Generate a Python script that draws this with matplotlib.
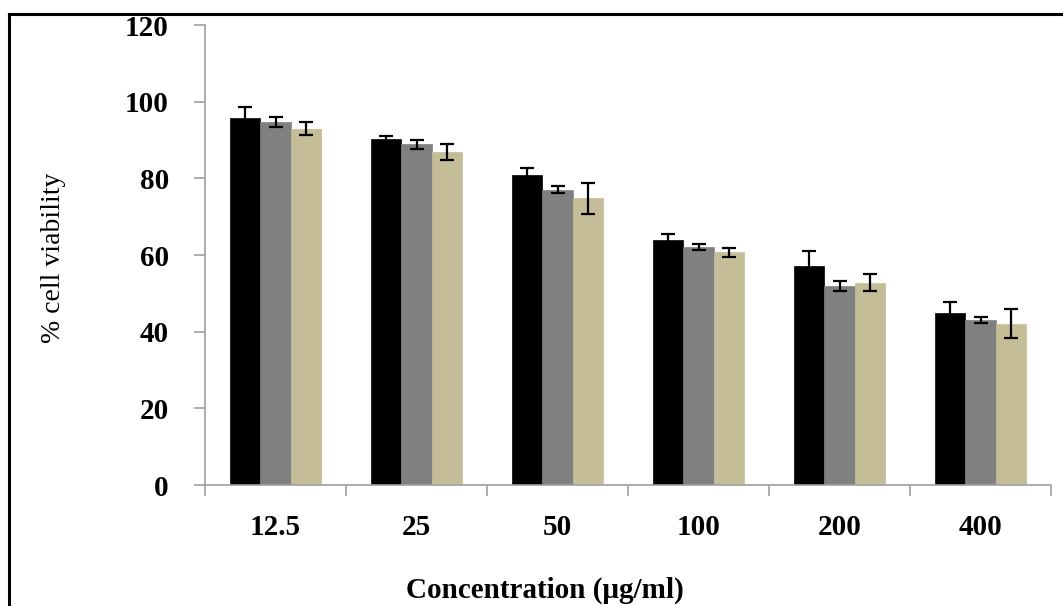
import matplotlib
matplotlib.use("Agg")
import matplotlib.pyplot as plt
from matplotlib.lines import Line2D
import numpy as np

categories = ["12.5", "25", "50", "100", "200", "400"]
series1 = [95.7, 90.3, 81.0, 63.9, 57.1, 44.8]
series1_err = [3.0, 0.8, 1.7, 1.5, 3.9, 3.0]
series2 = [94.7, 88.9, 77.0, 62.0, 51.8, 43.0]
series2_err = [1.3, 1.2, 0.9, 0.8, 1.3, 0.8]
series3 = [93.0, 86.8, 74.8, 60.7, 52.8, 42.1]
series3_err = [1.7, 2.1, 4.0, 1.2, 2.2, 3.8]
colors = ["#000000", "#808080", "#c4bd97"]
yticks = [0, 20, 40, 60, 80, 100, 120]

plt.rcParams['font.family'] = ['Liberation Serif', 'DejaVu Serif']

fig = plt.figure(figsize=(10.63, 6.06), dpi=100)
ax = fig.add_axes([205/1063, 1-485/606, (1051-205)/1063, (485-25)/606])

x = np.arange(len(categories))
w = 0.213
for i, (vals, errs) in enumerate([(series1, series1_err), (series2, series2_err), (series3, series3_err)]):
    ax.bar(x + (i-1)*w, vals, width=w, color=colors[i], edgecolor=colors[i], linewidth=0.5,
           yerr=errs, capsize=5, error_kw=dict(ecolor='black', elinewidth=1.6, capthick=1.6), zorder=2)

ax.set_xlim(-0.5, len(categories)-0.5)
ax.set_ylim(0, 120)
ax.set_yticks(yticks)
ax.set_yticklabels([str(t) for t in yticks], fontsize=21, fontweight='bold')
ax.set_xticks(x)
ax.set_xticklabels(categories, fontsize=21, fontweight='bold')
ax.set_xticks(np.arange(len(categories)+1)-0.5, minor=True)
ax.tick_params(axis='x', which='major', length=0, pad=21)
ax.tick_params(axis='x', which='minor', length=8, color='#a0a0a0', width=1.2, direction='out')
ax.tick_params(axis='y', length=8, color='#a0a0a0', width=1.2, direction='out', pad=18)

for s in ['top', 'right']:
    ax.spines[s].set_visible(False)
for s in ['left', 'bottom']:
    ax.spines[s].set_color('#a0a0a0')
    ax.spines[s].set_linewidth(1.2)

fig.text(53/1063, 1-258/606, "% cell viability", fontsize=20, rotation=90,
         ha='center', va='center')
fig.text(545/1063, 1-590/606, "Concentration (\u03bcg/ml)", fontsize=21, fontweight='bold',
         ha='center', va='center')

fig.add_artist(Line2D([8.5/1063, 1.0], [1-13.5/606, 1-13.5/606], color='black', lw=2.2, transform=fig.transFigure))
fig.add_artist(Line2D([8.5/1063, 8.5/1063], [0, 1-13.5/606], color='black', lw=2.2, transform=fig.transFigure))

fig.savefig("out.png", dpi=100)
